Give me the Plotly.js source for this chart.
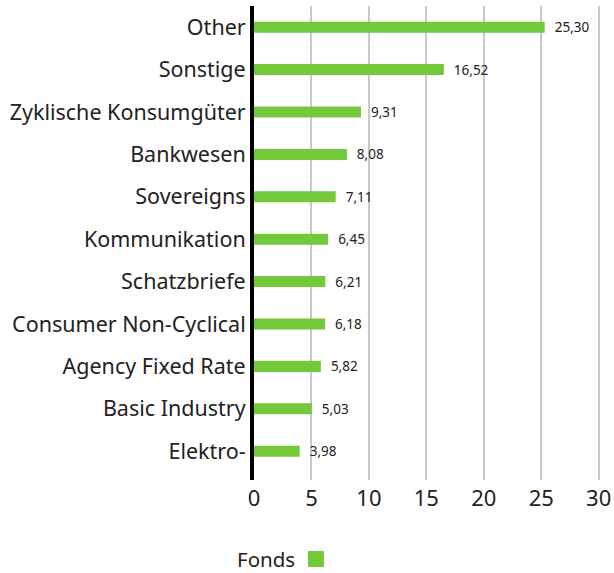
<!DOCTYPE html>
<html>
<head>
<meta charset="utf-8">
<script src="https://cdn.plot.ly/plotly-3.0.1.min.js"></script>
<style>html,body{margin:0;padding:0;background:#fff;}#chart{width:614px;height:573px;}</style>
</head>
<body>
<div id="chart"></div>
<script>
const categories = ["Other","Sonstige","Zyklische Konsumgüter","Bankwesen","Sovereigns","Kommunikation","Schatzbriefe","Consumer Non-Cyclical","Agency Fixed Rate","Basic Industry","Elektro-"];
const fondsValues = [25.30,16.52,9.31,8.08,7.11,6.45,6.21,6.18,5.82,5.03,3.98];
const xTicks = [0,5,10,15,20,25,30];
const seriesName = "Fonds";

const green = "#74c93a";
const font = "Noto Sans, Open Sans, sans-serif";
const pad = "\u00a0\u00a0";

const data = [{
  type: "bar",
  orientation: "h",
  y: categories,
  x: fondsValues,
  name: seriesName,
  marker: {color: green},
  width: 0.26,
  text: fondsValues.map(v => pad + v.toFixed(2).replace(".", ",")),
  textposition: "outside",
  constraintext: "none",
  cliponaxis: false,
  textfont: {size: 13.5, color: "#222", family: font},
  hoverinfo: "x+y",
  showlegend: false
}, {
  type: "scatter",
  mode: "markers",
  x: [null], y: [null],
  name: " ",
  marker: {symbol: "square", size: 20, color: green},
  showlegend: true
}];

const layout = {
  width: 614, height: 573,
  margin: {l: 254, r: 13, t: 6, b: 93},
  paper_bgcolor: "#fff", plot_bgcolor: "#fff",
  font: {family: font, color: "#222"},
  separators: ",.",
  xaxis: {
    range: [0, 30.2],
    tickvals: xTicks,
    ticktext: xTicks.map(String),
    showgrid: true, gridcolor: "#c8c8c8", gridwidth: 2,
    zeroline: false,
    showline: false,
    ticks: "", ticklabelstandoff: 3,
    tickfont: {size: 22, color: "#222", family: font},
    fixedrange: true
  },
  yaxis: {
    range: [10.68, -0.5],
    type: "category",
    showline: true, linecolor: "#000", linewidth: 4,
    showgrid: false, zeroline: false,
    ticks: "", ticklabelstandoff: 0,
    tickfont: {size: 21.5, color: "#222", family: font},
    fixedrange: true
  },
  showlegend: true,
  legend: {
    orientation: "h",
    xref: "container", yref: "container",
    x: 0.482, xanchor: "left",
    y: 0.024, yanchor: "middle",
    font: {size: 18},
    itemwidth: 30
  },
  annotations: [{
    text: seriesName,
    xref: "paper", yref: "paper",
    x: 0.036, y: -0.166,
    xanchor: "center", yanchor: "middle",
    showarrow: false, borderpad: 0,
    font: {size: 20.5, color: "#222", family: font}
  }]
};

Plotly.newPlot("chart", data, layout, {displayModeBar: false, staticPlot: true});
</script>
</body>
</html>
